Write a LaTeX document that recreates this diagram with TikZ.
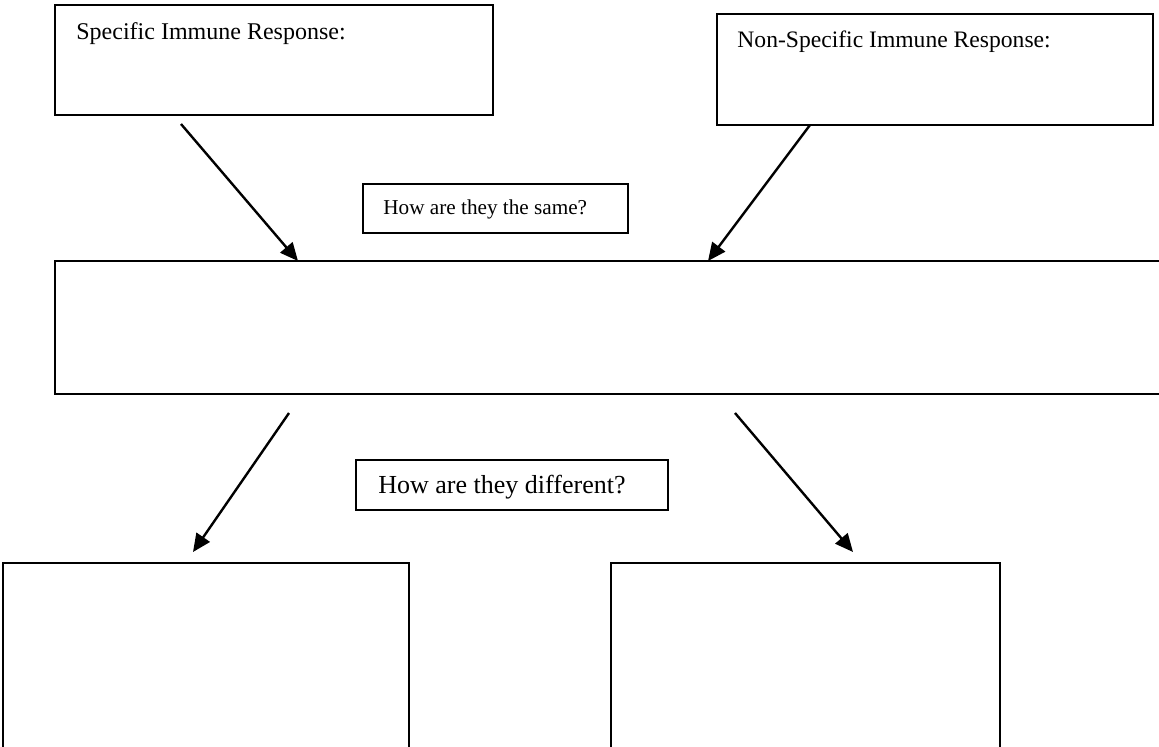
\documentclass[tikz,border=0pt]{standalone}
\usepackage{fontspec}
\setmainfont{Liberation Serif}
\usetikzlibrary{arrows.meta,positioning}

\tikzset{
  box/.style={draw, line width=1.1pt, rectangle, inner sep=0pt, outer sep=0pt, anchor=north west},
  boxtext/.style={anchor=base west, inner sep=0pt},
  pointer/.style={-{Triangle[length=9pt,width=8pt]}, line width=1.2pt},
}

\begin{document}
\begin{tikzpicture}[x=0.5pt, y=-0.5pt]
\useasboundingbox (0,0) rectangle (1159,746);
\clip (0,0) rectangle (1159,746);

\node[box, minimum width=219pt, minimum height=55pt] (spec) at (55,5) {};
\node[box, minimum width=218pt, minimum height=55.5pt] (nonspec) at (717,14) {};
\node[box, minimum width=132.5pt, minimum height=24.5pt] (same) at (363,184) {};
\node[box, minimum width=562.5pt, minimum height=66.5pt] (both) at (55,261) {};
\node[box, minimum width=156pt, minimum height=25pt] (diff) at (356,460) {};
\node[box, minimum width=203pt, minimum height=118.5pt] (leftans) at (3,563) {};
\node[box, minimum width=194.5pt, minimum height=118.5pt] (rightans) at (611,563) {};

\node[boxtext, font=\fontsize{12}{14}\selectfont] (spectxt) at (76,39) {Specific Immune Response:};
\node[boxtext, font=\fontsize{11.8}{14}\selectfont] (nonspectxt) at (737,47) {Non-Specific Immune Response:};
\node[boxtext, font=\fontsize{10.6}{13}\selectfont] (sametxt) at (383,214) {How are they the same?};
\node[boxtext, font=\fontsize{13}{15}\selectfont] (difftxt) at (378,493) {How are they different?};

% arrow ends
\path (spec.south west) ++(126,9) coordinate (s1);
\path (both.north west) ++(243,0) coordinate (t1);
\path (nonspec.south west) ++(93,0) coordinate (s2);
\path (both.north west) ++(653,0) coordinate (t2);
\path (both.south west) ++(234,19) coordinate (s3);
\path (leftans.north west) ++(190,-11) coordinate (t3);
\path (both.south west) ++(680,19) coordinate (s4);
\path (rightans.north west) ++(242,-11) coordinate (t4);

\draw[pointer] (s1) -- (t1);
\draw[pointer] (s2) -- (t2);
\draw[pointer] (s3) -- (t3);
\draw[pointer] (s4) -- (t4);
\end{tikzpicture}
\end{document}
